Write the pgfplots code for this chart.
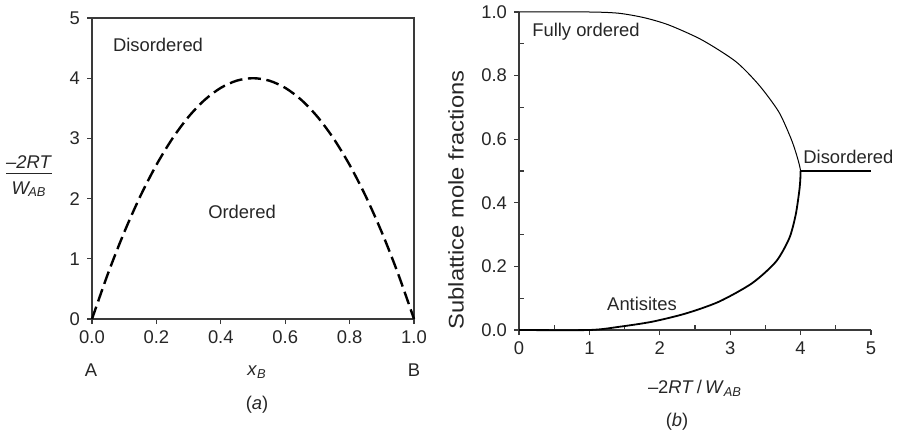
\documentclass[border=0pt]{standalone}
\usepackage{fontspec}
\setmainfont{Liberation Sans}
\usepackage{graphicx}
\usepackage{pgfplots}
\pgfplotsset{compat=1.18}
\definecolor{axc}{HTML}{3A3A3A}
\definecolor{txc}{HTML}{262626}
\begin{document}
\begin{tikzpicture}[x=1pt,y=1pt,font=\fontsize{9.2}{11}\selectfont\color{txc}]
\useasboundingbox (0pt,0pt) rectangle (449.5pt,-216.5pt);
% ---------- panel (a)
\begin{axis}[
  at={(46pt,-159.5pt)}, anchor=origin,
  scale only axis, width=161pt, height=150.5pt,
  xmin=0, xmax=1, ymin=0, ymax=5,
  xtick={0,0.2,0.4,0.6,0.8,1.0}, ytick={0,1,2,3,4,5},
  tick pos=left, tick align=outside, major tick length=2.5pt,
  axis line style={axc, line width=0.6pt},
  every tick/.style={axc, line width=0.6pt},
  /pgf/number format/assume math mode=true,
  xticklabel style={/pgf/number format/fixed, /pgf/number format/fixed zerofill, /pgf/number format/precision=1},
  tick label style={font=\fontsize{9.2}{11}\selectfont, color=txc},
  clip=false,
]
\addplot[black, line width=1.2pt, dash pattern=on 6.5pt off 2.8pt, smooth] coordinates {
(0,0) (0.05,0.76) (0.1,1.44) (0.15,2.04) (0.2,2.56) (0.25,3.0) (0.3,3.36) (0.35,3.64) (0.4,3.84) (0.45,3.96) (0.5,4.0)
(0.55,3.96) (0.6,3.84) (0.65,3.64) (0.7,3.36) (0.75,3.0) (0.8,2.56) (0.85,2.04) (0.9,1.44) (0.95,0.76) (1.0,0)};
\end{axis}
\node at (79pt,-22.5pt) {Disordered};
\node at (121pt,-106pt) {Ordered};
\node at (14.5pt,-88.5pt) {\begin{tabular}{@{}c@{}}\textit{–2RT}\\[-1pt]\hline\rule{0pt}{10pt}\textit{W}\textsubscript{\kern-1pt\textit{AB}}\end{tabular}};
\node at (45.5pt,-185pt) {A};
\node at (207pt,-185pt) {B};
\node at (128.5pt,-186pt) {\textit{x}\textsubscript{\textit{B}}};
\node at (128.5pt,-202.5pt) {(\textit{a})};
% ---------- panel (b)
\begin{axis}[
  at={(259.5pt,-165pt)}, anchor=origin,
  scale only axis, width=176pt, height=159pt,
  xmin=0, xmax=5, ymin=0, ymax=1,
  axis x line*=bottom, axis y line*=left,
  xtick={0,1,2,3,4,5}, ytick={0,0.2,0.4,0.6,0.8,1.0},
  minor xtick={0.5,1.5,2.5,3.5,4.5}, minor ytick={0.1,0.3,0.5,0.7,0.9},
  tick align=outside, major tick length=2.5pt, minor tick length=2.5pt,
  minor x tick style={yshift=2.5pt}, minor y tick style={xshift=2.5pt},
  axis line style={axc, line width=0.6pt},
  every tick/.style={axc, line width=0.6pt},
  /pgf/number format/assume math mode=true,
  yticklabel style={/pgf/number format/fixed, /pgf/number format/fixed zerofill, /pgf/number format/precision=1},
  tick label style={font=\fontsize{9.2}{11}\selectfont, color=txc},
  clip=false,
]
\addplot[black, line width=0.5pt, smooth, tension=0.45] coordinates {
(0,1) (1.0,1.0) (1.42,0.996) (1.78,0.982) (2.13,0.959) (2.6,0.912) (3.08,0.844) (3.41,0.770) (3.69,0.686) (3.86,0.604) (3.93,0.56) (3.97,0.53) (3.99,0.512) (4.0,0.5)};
\addplot[black, line width=0.9pt, smooth, tension=0.45] coordinates {
(0,0) (1.0,0.0) (1.42,0.010) (1.89,0.026) (2.37,0.052) (2.84,0.089) (3.31,0.147) (3.65,0.215) (3.84,0.289) (3.93,0.362) (3.98,0.435) (3.995,0.47) (4.0,0.5)};
\addplot[black, line width=0.9pt] coordinates {(4,0.5) (5,0.5)};
\end{axis}
\node at (293pt,-16pt) {Fully ordered};
\node at (321pt,-152pt) {Antisites};
\node[anchor=west, inner sep=0pt] at (401.5pt,-78.5pt) {Disordered};
\node at (347.5pt,-194pt) {–2\textit{RT}\,/\,\textit{W}\textsubscript{\textit{AB}}};
\node at (338.5pt,-211pt) {(\textit{b})};
\node[rotate=90] at (228pt,-100pt) {\fontsize{10.6}{12}\selectfont\scalebox{1.12}[1]{Sublattice mole fractions}};
\end{tikzpicture}
\end{document}
